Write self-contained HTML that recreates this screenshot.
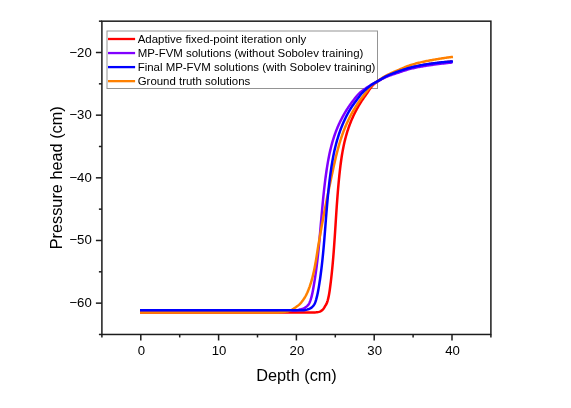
<!DOCTYPE html>
<html><head><meta charset="utf-8"><title>Pressure head vs depth</title>
<style>
html,body{margin:0;padding:0;background:#fff;}
body{width:571px;height:408px;overflow:hidden;position:relative;font-family:"Liberation Sans",sans-serif;}
svg{will-change:transform;}
svg text{font-family:"Liberation Sans",sans-serif;fill:#000;}
</style></head><body>
<svg width="571" height="408" viewBox="0 0 571 408" style="position:absolute;left:0;top:0">
<rect x="0" y="0" width="571" height="408" fill="#fff"/>
<rect x="107" y="31" width="270.5" height="57.5" fill="none" stroke="#949494" stroke-width="1"/>
<path d="M140.00,312.50 L141.13,312.50 L142.02,312.50 L143.00,312.50 L144.00,312.50 L145.00,312.50 L146.00,312.50 L147.00,312.50 L148.00,312.50 L149.00,312.50 L150.00,312.50 L151.00,312.50 L152.00,312.50 L153.00,312.50 L154.00,312.50 L155.00,312.50 L156.00,312.50 L157.00,312.50 L158.00,312.50 L159.00,312.50 L160.00,312.50 L161.00,312.50 L162.00,312.50 L163.00,312.50 L164.00,312.50 L165.00,312.50 L166.00,312.50 L167.00,312.50 L168.00,312.50 L169.00,312.50 L170.00,312.50 L171.00,312.50 L172.00,312.50 L173.00,312.50 L174.00,312.50 L175.00,312.50 L176.00,312.50 L177.00,312.50 L178.00,312.50 L179.00,312.50 L180.00,312.50 L181.00,312.50 L182.00,312.50 L183.00,312.50 L184.00,312.50 L185.00,312.50 L186.00,312.50 L187.00,312.50 L188.00,312.50 L189.00,312.50 L190.00,312.50 L191.00,312.50 L192.00,312.50 L193.00,312.50 L194.00,312.50 L195.00,312.50 L196.00,312.50 L197.00,312.50 L198.00,312.50 L199.00,312.50 L200.00,312.50 L201.00,312.50 L202.00,312.50 L203.00,312.50 L204.00,312.50 L205.00,312.50 L206.00,312.50 L207.00,312.50 L208.00,312.50 L209.00,312.50 L210.00,312.50 L211.00,312.50 L212.00,312.50 L213.00,312.50 L214.00,312.50 L215.00,312.50 L216.00,312.50 L217.00,312.50 L218.00,312.50 L219.00,312.50 L220.00,312.50 L221.00,312.50 L222.00,312.50 L223.00,312.50 L224.00,312.50 L225.00,312.50 L226.00,312.50 L227.00,312.50 L228.00,312.50 L229.00,312.50 L230.00,312.50 L231.00,312.50 L232.00,312.50 L233.00,312.50 L234.00,312.50 L235.00,312.50 L236.00,312.50 L237.00,312.50 L238.00,312.50 L239.00,312.50 L240.00,312.50 L241.00,312.50 L242.00,312.50 L243.00,312.50 L244.00,312.50 L245.00,312.50 L246.00,312.50 L247.00,312.50 L248.00,312.50 L249.00,312.50 L250.00,312.50 L251.00,312.50 L252.00,312.50 L253.00,312.50 L254.00,312.50 L255.00,312.50 L256.00,312.50 L257.00,312.50 L258.00,312.50 L259.00,312.50 L260.00,312.50 L261.00,312.50 L262.00,312.50 L263.00,312.50 L264.00,312.50 L265.00,312.50 L266.00,312.50 L267.00,312.50 L268.00,312.50 L269.00,312.50 L270.00,312.50 L271.00,312.50 L272.00,312.50 L273.00,312.50 L274.00,312.50 L275.00,312.50 L276.00,312.50 L277.00,312.50 L278.00,312.50 L279.00,312.50 L280.00,312.50 L281.00,312.50 L282.00,312.50 L283.00,312.50 L284.00,312.50 L285.00,312.50 L286.00,312.50 L287.00,312.50 L288.00,312.50 L289.00,312.50 L290.00,312.50 L291.00,312.50 L292.00,312.50 L293.00,312.50 L294.00,312.50 L295.00,312.50 L296.00,312.50 L297.00,312.50 L298.00,312.50 L299.00,312.50 L300.00,312.50 L301.00,312.50 L302.00,312.50 L303.00,312.50 L304.00,312.50 L305.00,312.50 L306.00,312.50 L307.00,312.50 L308.00,312.50 L309.00,312.50 L310.00,312.49 L311.01,312.48 L312.01,312.47 L313.01,312.46 L314.01,312.44 L315.00,312.41 L316.00,312.36 L317.00,312.27 L317.98,312.11 L318.95,311.89 L319.90,311.58 L320.80,311.17 L321.64,310.65 L322.39,310.01 L323.08,309.29 L323.69,308.50 L324.22,307.66 L324.72,306.79 L325.22,305.93 L325.75,305.09 L326.27,304.24 L326.71,303.36 L327.08,302.45 L327.39,301.50 L327.67,300.54 L327.93,299.56 L328.17,298.58 L328.40,297.60 L328.61,296.62 L328.81,295.64 L328.99,294.66 L329.17,293.67 L329.33,292.69 L329.49,291.70 L329.64,290.71 L329.78,289.72 L329.92,288.73 L330.05,287.74 L330.18,286.75 L330.31,285.76 L330.44,284.76 L330.56,283.77 L330.68,282.78 L330.81,281.79 L330.92,280.79 L331.04,279.80 L331.16,278.81 L331.27,277.81 L331.38,276.82 L331.49,275.83 L331.60,274.83 L331.71,273.84 L331.81,272.84 L331.92,271.85 L332.02,270.85 L332.12,269.86 L332.22,268.86 L332.31,267.87 L332.41,266.87 L332.50,265.88 L332.59,264.88 L332.69,263.89 L332.78,262.89 L332.86,261.89 L332.95,260.90 L333.04,259.90 L333.12,258.91 L333.21,257.91 L333.29,256.91 L333.37,255.92 L333.45,254.92 L333.53,253.92 L333.61,252.93 L333.69,251.93 L333.76,250.93 L333.84,249.93 L333.91,248.94 L333.99,247.94 L334.06,246.94 L334.13,245.94 L334.20,244.95 L334.27,243.95 L334.34,242.95 L334.41,241.95 L334.48,240.96 L334.55,239.96 L334.62,238.96 L334.69,237.96 L334.75,236.97 L334.82,235.97 L334.88,234.97 L334.95,233.97 L335.02,232.98 L335.08,231.98 L335.14,230.98 L335.21,229.98 L335.27,228.98 L335.34,227.99 L335.40,226.99 L335.47,225.99 L335.53,224.99 L335.59,223.99 L335.66,223.00 L335.72,222.00 L335.78,221.00 L335.85,220.00 L335.91,219.00 L335.98,218.01 L336.04,217.01 L336.11,216.01 L336.17,215.01 L336.24,214.01 L336.30,213.02 L336.37,212.02 L336.43,211.02 L336.50,210.02 L336.57,209.03 L336.64,208.03 L336.70,207.03 L336.77,206.03 L336.84,205.03 L336.91,204.04 L336.98,203.04 L337.06,202.04 L337.13,201.04 L337.20,200.05 L337.27,199.05 L337.35,198.05 L337.43,197.06 L337.50,196.06 L337.58,195.06 L337.66,194.07 L337.74,193.07 L337.82,192.07 L337.90,191.07 L337.98,190.08 L338.07,189.08 L338.15,188.09 L338.24,187.09 L338.33,186.09 L338.42,185.10 L338.51,184.10 L338.60,183.11 L338.69,182.11 L338.79,181.11 L338.88,180.12 L338.98,179.12 L339.08,178.13 L339.18,177.13 L339.28,176.14 L339.38,175.14 L339.49,174.15 L339.60,173.16 L339.71,172.16 L339.82,171.17 L339.93,170.17 L340.04,169.18 L340.16,168.19 L340.28,167.19 L340.40,166.20 L340.52,165.21 L340.65,164.22 L340.77,163.23 L340.90,162.23 L341.04,161.24 L341.18,160.25 L341.32,159.26 L341.46,158.27 L341.61,157.28 L341.76,156.30 L341.92,155.31 L342.08,154.32 L342.24,153.33 L342.41,152.35 L342.59,151.36 L342.76,150.38 L342.95,149.40 L343.14,148.41 L343.33,147.43 L343.53,146.45 L343.73,145.47 L343.94,144.50 L344.16,143.52 L344.38,142.55 L344.60,141.57 L344.84,140.60 L345.08,139.63 L345.32,138.66 L345.57,137.69 L345.83,136.72 L346.10,135.76 L346.37,134.80 L346.65,133.84 L346.93,132.88 L347.22,131.92 L347.52,130.97 L347.83,130.02 L348.14,129.07 L348.46,128.12 L348.79,127.17 L349.12,126.23 L349.47,125.29 L349.82,124.36 L350.17,123.42 L350.54,122.49 L350.91,121.56 L351.29,120.64 L351.67,119.71 L352.07,118.80 L352.47,117.88 L352.88,116.97 L353.30,116.06 L353.72,115.15 L354.15,114.25 L354.59,113.35 L355.04,112.46 L355.49,111.57 L355.96,110.68 L356.42,109.80 L356.90,108.92 L357.38,108.04 L357.88,107.17 L358.37,106.30 L358.88,105.44 L359.39,104.58 L359.91,103.73 L360.44,102.88 L360.97,102.03 L361.51,101.19 L362.06,100.35 L362.61,99.52 L363.17,98.69 L363.74,97.87 L364.31,97.05 L364.89,96.24 L365.48,95.43 L366.07,94.62 L366.65,93.80 L367.22,92.97 L367.78,92.14 L368.34,91.29 L368.89,90.44 L369.45,89.60 L370.01,88.76 L370.59,87.94 L371.18,87.14 L371.80,86.37 L372.44,85.63 L373.12,84.93 L373.85,84.26 L374.61,83.61 L375.40,82.99 L376.21,82.39 L377.03,81.81 L377.85,81.24 L378.68,80.68 L379.52,80.14 L380.37,79.61 L381.23,79.09 L382.10,78.58 L382.97,78.09 L383.85,77.61 L384.74,77.14 L385.63,76.70 L386.52,76.26 L387.43,75.84 L388.34,75.44 L389.25,75.04 L390.18,74.66 L391.10,74.28 L392.04,73.91 L392.97,73.55 L393.91,73.20 L394.85,72.85 L395.80,72.51 L396.74,72.17 L397.68,71.84 L398.62,71.51 L399.57,71.18 L400.52,70.86 L401.46,70.54 L402.41,70.22 L403.37,69.90 L404.32,69.60 L405.28,69.30 L406.23,69.00 L407.19,68.71 L408.16,68.44 L409.12,68.17 L410.08,67.91 L411.05,67.66 L412.02,67.43 L412.99,67.20 L413.96,66.98 L414.93,66.76 L415.91,66.55 L416.89,66.35 L417.87,66.15 L418.85,65.95 L419.84,65.76 L420.82,65.57 L421.81,65.39 L422.79,65.22 L423.78,65.05 L424.77,64.88 L425.75,64.72 L426.74,64.56 L427.73,64.41 L428.72,64.26 L429.71,64.11 L430.70,63.97 L431.68,63.83 L432.67,63.69 L433.66,63.55 L434.65,63.41 L435.64,63.28 L436.63,63.15 L437.62,63.02 L438.62,62.89 L439.61,62.77 L440.60,62.65 L441.59,62.53 L442.59,62.41 L443.58,62.30 L444.58,62.19 L445.57,62.08 L446.57,61.98 L447.56,61.88 L448.56,61.78 L449.56,61.69 L450.55,61.60 L451.49,61.52 L452.27,61.46" fill="none" stroke="#ff0000" stroke-width="2.5" stroke-linejoin="round" stroke-linecap="butt"/>
<path d="M140.00,310.35 L141.13,310.35 L142.02,310.35 L143.00,310.35 L144.00,310.35 L145.00,310.35 L146.00,310.35 L147.00,310.35 L148.00,310.35 L149.00,310.35 L150.00,310.35 L151.00,310.35 L152.00,310.35 L153.00,310.35 L154.00,310.35 L155.00,310.35 L156.00,310.35 L157.00,310.35 L158.00,310.35 L159.00,310.35 L160.00,310.35 L161.00,310.35 L162.00,310.35 L163.00,310.35 L164.00,310.35 L165.00,310.35 L166.00,310.35 L167.00,310.35 L168.00,310.35 L169.00,310.35 L170.00,310.35 L171.00,310.35 L172.00,310.35 L173.00,310.35 L174.00,310.35 L175.00,310.35 L176.00,310.35 L177.00,310.35 L178.00,310.35 L179.00,310.35 L180.00,310.35 L181.00,310.35 L182.00,310.35 L183.00,310.35 L184.00,310.35 L185.00,310.35 L186.00,310.35 L187.00,310.35 L188.00,310.35 L189.00,310.35 L190.00,310.35 L191.00,310.35 L192.00,310.35 L193.00,310.35 L194.00,310.35 L195.00,310.35 L196.00,310.35 L197.00,310.35 L198.00,310.35 L199.00,310.35 L200.00,310.35 L201.00,310.35 L202.00,310.35 L203.00,310.35 L204.00,310.35 L205.00,310.35 L206.00,310.35 L207.00,310.35 L208.00,310.35 L209.00,310.35 L210.00,310.35 L211.00,310.35 L212.00,310.35 L213.00,310.35 L214.00,310.35 L215.00,310.35 L216.00,310.35 L217.00,310.35 L218.00,310.35 L219.00,310.35 L220.00,310.35 L221.00,310.35 L222.00,310.35 L223.00,310.35 L224.00,310.35 L225.00,310.35 L226.00,310.35 L227.00,310.35 L228.00,310.35 L229.00,310.35 L230.00,310.35 L231.00,310.35 L232.00,310.35 L233.00,310.35 L234.00,310.35 L235.00,310.35 L236.00,310.35 L237.00,310.35 L238.00,310.35 L239.00,310.35 L240.00,310.35 L241.00,310.35 L242.00,310.35 L243.00,310.35 L244.00,310.35 L245.00,310.35 L246.00,310.35 L247.00,310.35 L248.00,310.35 L249.00,310.35 L250.00,310.35 L251.00,310.35 L252.00,310.35 L253.00,310.35 L254.00,310.35 L255.00,310.35 L256.00,310.35 L257.00,310.35 L258.00,310.35 L259.00,310.35 L260.00,310.35 L261.00,310.35 L262.00,310.35 L263.00,310.35 L264.00,310.35 L265.00,310.35 L266.00,310.35 L267.00,310.35 L268.00,310.35 L269.00,310.35 L270.00,310.35 L271.00,310.35 L272.00,310.35 L273.00,310.35 L274.00,310.35 L275.00,310.35 L276.00,310.35 L277.00,310.35 L278.00,310.35 L279.00,310.35 L280.00,310.35 L281.00,310.35 L282.00,310.35 L283.00,310.35 L284.00,310.35 L285.00,310.35 L286.00,310.35 L287.00,310.35 L288.00,310.35 L289.00,310.35 L290.00,310.35 L291.00,310.34 L292.00,310.33 L293.01,310.32 L294.01,310.30 L295.00,310.27 L296.00,310.22 L296.99,310.13 L297.98,309.99 L298.96,309.80 L299.94,309.56 L300.91,309.30 L301.87,309.01 L302.81,308.69 L303.74,308.31 L304.63,307.86 L305.49,307.35 L306.30,306.77 L307.07,306.14 L307.79,305.44 L308.43,304.68 L308.98,303.87 L309.44,303.01 L309.84,302.10 L310.19,301.16 L310.52,300.20 L310.82,299.24 L311.10,298.27 L311.37,297.30 L311.63,296.33 L311.87,295.36 L312.10,294.39 L312.31,293.41 L312.52,292.43 L312.72,291.45 L312.91,290.47 L313.10,289.49 L313.28,288.51 L313.45,287.52 L313.63,286.54 L313.80,285.55 L313.96,284.56 L314.13,283.58 L314.29,282.59 L314.45,281.60 L314.61,280.62 L314.76,279.63 L314.92,278.64 L315.07,277.65 L315.22,276.66 L315.36,275.67 L315.51,274.68 L315.65,273.69 L315.79,272.70 L315.92,271.71 L316.06,270.72 L316.19,269.73 L316.32,268.74 L316.45,267.75 L316.58,266.76 L316.71,265.77 L316.83,264.77 L316.95,263.78 L317.07,262.79 L317.19,261.79 L317.31,260.80 L317.43,259.81 L317.54,258.82 L317.65,257.82 L317.76,256.83 L317.87,255.83 L317.98,254.84 L318.09,253.85 L318.19,252.85 L318.30,251.86 L318.40,250.86 L318.50,249.87 L318.60,248.87 L318.70,247.88 L318.80,246.88 L318.90,245.89 L318.99,244.89 L319.09,243.90 L319.18,242.90 L319.27,241.90 L319.37,240.91 L319.46,239.91 L319.55,238.92 L319.64,237.92 L319.73,236.93 L319.82,235.93 L319.91,234.93 L320.00,233.94 L320.09,232.94 L320.17,231.94 L320.26,230.95 L320.35,229.95 L320.43,228.96 L320.52,227.96 L320.61,226.96 L320.69,225.97 L320.78,224.97 L320.86,223.97 L320.95,222.98 L321.04,221.98 L321.12,220.99 L321.21,219.99 L321.29,218.99 L321.38,218.00 L321.47,217.00 L321.55,216.00 L321.64,215.01 L321.73,214.01 L321.82,213.02 L321.90,212.02 L321.99,211.02 L322.08,210.03 L322.17,209.03 L322.26,208.04 L322.35,207.04 L322.45,206.04 L322.54,205.05 L322.63,204.05 L322.73,203.06 L322.82,202.06 L322.92,201.07 L323.02,200.07 L323.11,199.08 L323.21,198.08 L323.31,197.09 L323.41,196.09 L323.52,195.10 L323.62,194.10 L323.73,193.11 L323.83,192.11 L323.94,191.12 L324.05,190.12 L324.16,189.13 L324.27,188.14 L324.39,187.14 L324.50,186.15 L324.62,185.16 L324.74,184.16 L324.86,183.17 L324.98,182.18 L325.10,181.19 L325.23,180.19 L325.35,179.20 L325.48,178.21 L325.61,177.22 L325.75,176.23 L325.88,175.24 L326.02,174.25 L326.16,173.26 L326.30,172.27 L326.44,171.28 L326.59,170.29 L326.74,169.30 L326.89,168.31 L327.04,167.32 L327.20,166.33 L327.36,165.35 L327.52,164.36 L327.68,163.37 L327.85,162.39 L328.02,161.40 L328.20,160.42 L328.38,159.44 L328.56,158.45 L328.75,157.47 L328.94,156.49 L329.14,155.51 L329.34,154.53 L329.55,153.55 L329.76,152.57 L329.98,151.60 L330.20,150.62 L330.42,149.65 L330.66,148.68 L330.90,147.70 L331.14,146.73 L331.39,145.77 L331.65,144.80 L331.91,143.83 L332.18,142.87 L332.45,141.91 L332.73,140.95 L333.02,139.99 L333.32,139.04 L333.62,138.08 L333.93,137.13 L334.24,136.18 L334.57,135.24 L334.89,134.29 L335.23,133.35 L335.58,132.41 L335.93,131.48 L336.29,130.54 L336.65,129.61 L337.02,128.68 L337.41,127.76 L337.79,126.84 L338.19,125.92 L338.59,125.01 L339.00,124.09 L339.42,123.19 L339.85,122.28 L340.28,121.38 L340.72,120.48 L341.17,119.59 L341.63,118.70 L342.09,117.81 L342.56,116.93 L343.04,116.05 L343.53,115.18 L344.02,114.31 L344.52,113.44 L345.03,112.58 L345.54,111.72 L346.06,110.87 L346.59,110.02 L347.13,109.18 L347.67,108.34 L348.22,107.50 L348.78,106.67 L349.34,105.84 L349.91,105.02 L350.48,104.21 L351.07,103.39 L351.66,102.58 L352.25,101.78 L352.85,100.98 L353.46,100.19 L354.08,99.40 L354.70,98.61 L355.32,97.83 L355.95,97.05 L356.58,96.28 L357.22,95.50 L357.88,94.75 L358.56,94.03 L359.26,93.34 L360.00,92.67 L360.75,92.02 L361.53,91.39 L362.32,90.77 L363.12,90.16 L363.94,89.56 L364.76,88.98 L365.59,88.41 L366.42,87.85 L367.25,87.29 L368.09,86.75 L368.93,86.22 L369.79,85.70 L370.64,85.20 L371.51,84.70 L372.39,84.21 L373.26,83.73 L374.15,83.25 L375.03,82.78 L375.91,82.30 L376.80,81.83 L377.68,81.35 L378.56,80.87 L379.43,80.39 L380.31,79.90 L381.19,79.42 L382.07,78.94 L382.96,78.47 L383.85,78.02 L384.74,77.59 L385.65,77.17 L386.56,76.78 L387.48,76.40 L388.41,76.03 L389.34,75.68 L390.28,75.33 L391.23,75.00 L392.17,74.67 L393.12,74.35 L394.07,74.03 L395.03,73.72 L395.98,73.40 L396.93,73.09 L397.88,72.77 L398.83,72.46 L399.78,72.14 L400.73,71.82 L401.68,71.50 L402.63,71.18 L403.58,70.87 L404.53,70.56 L405.49,70.25 L406.44,69.95 L407.40,69.66 L408.36,69.38 L409.32,69.11 L410.28,68.86 L411.25,68.61 L412.22,68.38 L413.19,68.16 L414.16,67.94 L415.14,67.73 L416.12,67.53 L417.10,67.33 L418.08,67.14 L419.06,66.95 L420.05,66.77 L421.03,66.59 L422.02,66.42 L423.01,66.25 L424.00,66.09 L424.99,65.93 L425.98,65.77 L426.96,65.62 L427.95,65.47 L428.94,65.32 L429.93,65.18 L430.92,65.04 L431.91,64.90 L432.90,64.76 L433.89,64.63 L434.88,64.49 L435.87,64.36 L436.86,64.23 L437.85,64.10 L438.84,63.98 L439.84,63.86 L440.83,63.73 L441.82,63.62 L442.82,63.50 L443.81,63.39 L444.80,63.28 L445.80,63.17 L446.80,63.07 L447.79,62.97 L448.79,62.87 L449.78,62.78 L450.77,62.69 L451.68,62.61 L452.40,62.55" fill="none" stroke="#8000ff" stroke-width="2.5" stroke-linejoin="round" stroke-linecap="butt"/>
<path d="M140.00,312.50 L141.13,312.50 L142.02,312.50 L143.00,312.50 L144.00,312.50 L145.00,312.50 L146.00,312.50 L147.00,312.50 L148.00,312.50 L149.00,312.50 L150.00,312.50 L151.00,312.50 L152.00,312.50 L153.00,312.50 L154.00,312.50 L155.00,312.50 L156.00,312.50 L157.00,312.50 L158.00,312.50 L159.00,312.50 L160.00,312.50 L161.00,312.50 L162.00,312.50 L163.00,312.50 L164.00,312.50 L165.00,312.50 L166.00,312.50 L167.00,312.50 L168.00,312.50 L169.00,312.50 L170.00,312.50 L171.00,312.50 L172.00,312.50 L173.00,312.50 L174.00,312.50 L175.00,312.50 L176.00,312.50 L177.00,312.50 L178.00,312.50 L179.00,312.50 L180.00,312.50 L181.00,312.50 L182.00,312.50 L183.00,312.50 L184.00,312.50 L185.00,312.50 L186.00,312.50 L187.00,312.50 L188.00,312.50 L189.00,312.50 L190.00,312.50 L191.00,312.50 L192.00,312.50 L193.00,312.50 L194.00,312.50 L195.00,312.50 L196.00,312.50 L197.00,312.50 L198.00,312.50 L199.00,312.50 L200.00,312.50 L201.00,312.50 L202.00,312.50 L203.00,312.50 L204.00,312.50 L205.00,312.50 L206.00,312.50 L207.00,312.50 L208.00,312.50 L209.00,312.50 L210.00,312.50 L211.00,312.50 L212.00,312.50 L213.00,312.50 L214.00,312.50 L215.00,312.50 L216.00,312.50 L217.00,312.50 L218.00,312.50 L219.00,312.50 L220.00,312.50 L221.00,312.50 L222.00,312.50 L223.00,312.50 L224.00,312.50 L225.00,312.50 L226.00,312.50 L227.00,312.50 L228.00,312.50 L229.00,312.50 L230.00,312.50 L231.00,312.50 L232.00,312.50 L233.00,312.50 L234.00,312.50 L235.00,312.50 L236.00,312.50 L237.00,312.50 L238.00,312.50 L239.00,312.50 L240.00,312.50 L241.00,312.50 L242.00,312.50 L243.00,312.50 L244.00,312.50 L245.00,312.50 L246.00,312.50 L247.00,312.50 L248.00,312.50 L249.00,312.50 L250.00,312.50 L251.00,312.50 L252.00,312.50 L253.00,312.50 L254.00,312.50 L255.00,312.50 L256.00,312.50 L257.00,312.50 L258.00,312.50 L259.00,312.50 L260.00,312.50 L261.00,312.50 L262.00,312.50 L263.00,312.50 L264.00,312.50 L265.00,312.50 L266.00,312.50 L267.00,312.50 L268.00,312.50 L269.00,312.50 L270.00,312.50 L271.00,312.50 L272.00,312.50 L273.00,312.50 L274.00,312.50 L275.00,312.49 L276.00,312.47 L277.00,312.44 L278.00,312.41 L279.00,312.36 L280.00,312.31 L281.00,312.25 L281.99,312.18 L282.99,312.09 L283.98,311.97 L284.97,311.81 L285.96,311.63 L286.94,311.43 L287.91,311.20 L288.87,310.93 L289.83,310.63 L290.76,310.27 L291.66,309.86 L292.54,309.39 L293.39,308.87 L294.23,308.32 L295.06,307.75 L295.88,307.18 L296.69,306.59 L297.49,305.99 L298.28,305.37 L299.05,304.73 L299.78,304.06 L300.47,303.35 L301.13,302.61 L301.77,301.83 L302.38,301.04 L302.98,300.23 L303.55,299.40 L304.11,298.56 L304.64,297.72 L305.15,296.86 L305.64,295.99 L306.11,295.11 L306.56,294.21 L306.99,293.31 L307.41,292.40 L307.81,291.48 L308.19,290.56 L308.56,289.63 L308.91,288.70 L309.26,287.76 L309.60,286.82 L309.92,285.87 L310.24,284.92 L310.55,283.97 L310.85,283.02 L311.14,282.06 L311.43,281.10 L311.70,280.14 L311.97,279.18 L312.23,278.21 L312.49,277.25 L312.73,276.28 L312.97,275.31 L313.21,274.33 L313.43,273.36 L313.65,272.38 L313.87,271.41 L314.08,270.43 L314.28,269.45 L314.48,268.47 L314.67,267.49 L314.86,266.51 L315.05,265.52 L315.23,264.54 L315.40,263.56 L315.58,262.57 L315.75,261.59 L315.92,260.60 L316.08,259.61 L316.25,258.63 L316.41,257.64 L316.57,256.65 L316.73,255.67 L316.88,254.68 L317.04,253.69 L317.20,252.70 L317.36,251.72 L317.51,250.73 L317.67,249.74 L317.83,248.75 L317.99,247.77 L318.15,246.78 L318.31,245.79 L318.47,244.81 L318.64,243.82 L318.80,242.83 L318.96,241.85 L319.13,240.86 L319.30,239.88 L319.46,238.89 L319.63,237.90 L319.80,236.92 L319.97,235.93 L320.14,234.95 L320.31,233.96 L320.48,232.98 L320.66,231.99 L320.83,231.01 L321.00,230.02 L321.18,229.04 L321.36,228.05 L321.53,227.07 L321.71,226.08 L321.89,225.10 L322.07,224.12 L322.25,223.13 L322.43,222.15 L322.61,221.17 L322.79,220.18 L322.97,219.20 L323.15,218.22 L323.34,217.23 L323.52,216.25 L323.71,215.27 L323.89,214.29 L324.08,213.30 L324.27,212.32 L324.46,211.34 L324.64,210.36 L324.83,209.37 L325.02,208.39 L325.21,207.41 L325.41,206.43 L325.60,205.45 L325.79,204.47 L325.98,203.49 L326.18,202.50 L326.37,201.52 L326.57,200.54 L326.76,199.56 L326.96,198.58 L327.16,197.60 L327.35,196.62 L327.55,195.64 L327.75,194.66 L327.95,193.68 L328.15,192.70 L328.35,191.72 L328.55,190.74 L328.75,189.76 L328.96,188.78 L329.16,187.80 L329.36,186.82 L329.57,185.85 L329.77,184.87 L329.98,183.89 L330.18,182.91 L330.39,181.93 L330.60,180.95 L330.80,179.97 L331.01,179.00 L331.22,178.02 L331.43,177.04 L331.64,176.06 L331.85,175.08 L332.06,174.11 L332.27,173.13 L332.48,172.15 L332.69,171.17 L332.90,170.20 L333.12,169.22 L333.33,168.24 L333.54,167.27 L333.76,166.29 L333.97,165.31 L334.19,164.34 L334.41,163.36 L334.63,162.39 L334.85,161.41 L335.08,160.44 L335.30,159.46 L335.53,158.49 L335.76,157.52 L336.00,156.54 L336.23,155.57 L336.47,154.60 L336.71,153.63 L336.96,152.66 L337.21,151.69 L337.46,150.73 L337.72,149.76 L337.98,148.79 L338.24,147.83 L338.51,146.86 L338.78,145.90 L339.05,144.94 L339.34,143.98 L339.62,143.02 L339.91,142.07 L340.20,141.11 L340.50,140.16 L340.81,139.20 L341.12,138.25 L341.43,137.30 L341.75,136.36 L342.08,135.41 L342.41,134.47 L342.75,133.53 L343.09,132.59 L343.44,131.65 L343.79,130.71 L344.16,129.78 L344.52,128.85 L344.89,127.92 L345.27,127.00 L345.66,126.08 L346.05,125.16 L346.45,124.24 L346.85,123.32 L347.26,122.41 L347.68,121.50 L348.11,120.60 L348.54,119.70 L348.97,118.80 L349.42,117.90 L349.87,117.01 L350.32,116.12 L350.79,115.23 L351.26,114.35 L351.74,113.47 L352.22,112.59 L352.71,111.72 L353.21,110.85 L353.71,109.99 L354.22,109.13 L354.73,108.27 L355.26,107.42 L355.79,106.57 L356.32,105.73 L356.86,104.89 L357.41,104.05 L357.96,103.22 L358.53,102.39 L359.09,101.57 L359.66,100.75 L360.24,99.93 L360.83,99.12 L361.42,98.31 L362.02,97.51 L362.62,96.71 L363.23,95.92 L363.84,95.13 L364.46,94.34 L365.08,93.55 L365.69,92.76 L366.31,91.96 L366.92,91.16 L367.54,90.35 L368.16,89.55 L368.78,88.76 L369.42,87.98 L370.07,87.22 L370.73,86.48 L371.41,85.77 L372.12,85.08 L372.85,84.43 L373.62,83.81 L374.42,83.22 L375.24,82.65 L376.08,82.09 L376.92,81.54 L377.76,80.98 L378.59,80.42 L379.42,79.86 L380.25,79.30 L381.09,78.74 L381.92,78.19 L382.76,77.64 L383.61,77.11 L384.46,76.59 L385.32,76.09 L386.19,75.61 L387.07,75.14 L387.96,74.69 L388.85,74.25 L389.75,73.81 L390.66,73.39 L391.57,72.97 L392.49,72.57 L393.41,72.16 L394.33,71.76 L395.25,71.36 L396.17,70.97 L397.09,70.58 L398.01,70.18 L398.92,69.78 L399.84,69.38 L400.76,68.99 L401.68,68.59 L402.61,68.19 L403.53,67.80 L404.46,67.41 L405.38,67.03 L406.31,66.65 L407.25,66.29 L408.18,65.93 L409.12,65.59 L410.06,65.26 L411.00,64.95 L411.95,64.66 L412.90,64.37 L413.86,64.10 L414.82,63.83 L415.78,63.57 L416.75,63.31 L417.72,63.07 L418.69,62.83 L419.67,62.59 L420.64,62.36 L421.62,62.14 L422.60,61.92 L423.58,61.71 L424.56,61.50 L425.54,61.30 L426.53,61.10 L427.51,60.91 L428.49,60.72 L429.47,60.53 L430.45,60.35 L431.43,60.17 L432.41,59.99 L433.40,59.81 L434.38,59.63 L435.36,59.46 L436.35,59.29 L437.33,59.12 L438.32,58.96 L439.31,58.79 L440.29,58.63 L441.28,58.48 L442.27,58.32 L443.26,58.17 L444.25,58.03 L445.24,57.88 L446.23,57.74 L447.22,57.61 L448.22,57.48 L449.21,57.35 L450.20,57.23 L451.16,57.11 L452.01,57.01 L453.00,56.90" fill="none" stroke="#ff8000" stroke-width="2.5" stroke-linejoin="round" stroke-linecap="butt"/>
<path d="M140.00,310.35 L141.13,310.35 L142.02,310.35 L143.00,310.35 L144.00,310.35 L145.00,310.35 L146.00,310.35 L147.00,310.35 L148.00,310.35 L149.00,310.35 L150.00,310.35 L151.00,310.35 L152.00,310.35 L153.00,310.35 L154.00,310.35 L155.00,310.35 L156.00,310.35 L157.00,310.35 L158.00,310.35 L159.00,310.35 L160.00,310.35 L161.00,310.35 L162.00,310.35 L163.00,310.35 L164.00,310.35 L165.00,310.35 L166.00,310.35 L167.00,310.35 L168.00,310.35 L169.00,310.35 L170.00,310.35 L171.00,310.35 L172.00,310.35 L173.00,310.35 L174.00,310.35 L175.00,310.35 L176.00,310.35 L177.00,310.35 L178.00,310.35 L179.00,310.35 L180.00,310.35 L181.00,310.35 L182.00,310.35 L183.00,310.35 L184.00,310.35 L185.00,310.35 L186.00,310.35 L187.00,310.35 L188.00,310.35 L189.00,310.35 L190.00,310.35 L191.00,310.35 L192.00,310.35 L193.00,310.35 L194.00,310.35 L195.00,310.35 L196.00,310.35 L197.00,310.35 L198.00,310.35 L199.00,310.35 L200.00,310.35 L201.00,310.35 L202.00,310.35 L203.00,310.35 L204.00,310.35 L205.00,310.35 L206.00,310.35 L207.00,310.35 L208.00,310.35 L209.00,310.35 L210.00,310.35 L211.00,310.35 L212.00,310.35 L213.00,310.35 L214.00,310.35 L215.00,310.35 L216.00,310.35 L217.00,310.35 L218.00,310.35 L219.00,310.35 L220.00,310.35 L221.00,310.35 L222.00,310.35 L223.00,310.35 L224.00,310.35 L225.00,310.35 L226.00,310.35 L227.00,310.35 L228.00,310.35 L229.00,310.35 L230.00,310.35 L231.00,310.35 L232.00,310.35 L233.00,310.35 L234.00,310.35 L235.00,310.35 L236.00,310.35 L237.00,310.35 L238.00,310.35 L239.00,310.35 L240.00,310.35 L241.00,310.35 L242.00,310.35 L243.00,310.35 L244.00,310.35 L245.00,310.35 L246.00,310.35 L247.00,310.35 L248.00,310.35 L249.00,310.35 L250.00,310.35 L251.00,310.35 L252.00,310.35 L253.00,310.35 L254.00,310.35 L255.00,310.35 L256.00,310.35 L257.00,310.35 L258.00,310.35 L259.00,310.35 L260.00,310.35 L261.00,310.35 L262.00,310.35 L263.00,310.35 L264.00,310.35 L265.00,310.35 L266.00,310.35 L267.00,310.35 L268.00,310.35 L269.00,310.35 L270.00,310.35 L271.00,310.35 L272.00,310.35 L273.00,310.35 L274.00,310.35 L275.00,310.35 L276.00,310.35 L277.00,310.35 L278.00,310.35 L279.00,310.35 L280.00,310.35 L281.00,310.35 L282.00,310.35 L283.00,310.35 L284.00,310.35 L285.00,310.35 L286.00,310.35 L287.00,310.35 L288.00,310.35 L289.00,310.35 L290.00,310.35 L291.00,310.35 L292.00,310.35 L293.00,310.35 L294.00,310.35 L295.00,310.35 L296.00,310.35 L297.00,310.35 L298.00,310.35 L299.00,310.35 L300.00,310.34 L301.01,310.33 L302.00,310.31 L303.00,310.27 L303.99,310.19 L304.98,310.05 L305.97,309.85 L306.95,309.60 L307.91,309.32 L308.86,309.00 L309.78,308.63 L310.66,308.17 L311.48,307.62 L312.23,306.97 L312.93,306.25 L313.56,305.48 L314.13,304.66 L314.62,303.80 L315.03,302.91 L315.39,301.98 L315.70,301.03 L316.00,300.06 L316.27,299.09 L316.54,298.12 L316.79,297.15 L317.04,296.18 L317.27,295.21 L317.48,294.23 L317.69,293.25 L317.89,292.27 L318.07,291.29 L318.25,290.31 L318.43,289.32 L318.60,288.34 L318.77,287.35 L318.93,286.36 L319.09,285.38 L319.25,284.39 L319.40,283.40 L319.55,282.41 L319.70,281.43 L319.85,280.44 L320.00,279.45 L320.14,278.46 L320.28,277.47 L320.42,276.48 L320.55,275.49 L320.69,274.49 L320.82,273.50 L320.95,272.51 L321.08,271.52 L321.20,270.53 L321.32,269.54 L321.45,268.54 L321.56,267.55 L321.68,266.56 L321.80,265.56 L321.91,264.57 L322.02,263.58 L322.13,262.58 L322.24,261.59 L322.35,260.59 L322.46,259.60 L322.56,258.61 L322.66,257.61 L322.76,256.62 L322.86,255.62 L322.96,254.63 L323.06,253.63 L323.15,252.63 L323.25,251.64 L323.34,250.64 L323.43,249.65 L323.52,248.65 L323.61,247.66 L323.70,246.66 L323.79,245.66 L323.88,244.67 L323.96,243.67 L324.05,242.67 L324.13,241.68 L324.22,240.68 L324.30,239.69 L324.38,238.69 L324.46,237.69 L324.54,236.70 L324.62,235.70 L324.70,234.70 L324.78,233.70 L324.86,232.71 L324.94,231.71 L325.02,230.71 L325.10,229.72 L325.18,228.72 L325.25,227.72 L325.33,226.73 L325.41,225.73 L325.49,224.73 L325.56,223.74 L325.64,222.74 L325.72,221.74 L325.80,220.74 L325.88,219.75 L325.95,218.75 L326.03,217.75 L326.11,216.76 L326.19,215.76 L326.27,214.76 L326.35,213.77 L326.43,212.77 L326.51,211.77 L326.59,210.78 L326.67,209.78 L326.76,208.78 L326.84,207.79 L326.93,206.79 L327.01,205.79 L327.10,204.80 L327.18,203.80 L327.27,202.80 L327.36,201.81 L327.45,200.81 L327.54,199.82 L327.63,198.82 L327.73,197.83 L327.82,196.83 L327.91,195.83 L328.01,194.84 L328.11,193.84 L328.21,192.85 L328.31,191.85 L328.41,190.86 L328.52,189.86 L328.62,188.87 L328.73,187.88 L328.84,186.88 L328.95,185.89 L329.06,184.89 L329.17,183.90 L329.29,182.91 L329.41,181.91 L329.53,180.92 L329.65,179.93 L329.77,178.94 L329.89,177.94 L330.02,176.95 L330.15,175.96 L330.28,174.97 L330.42,173.98 L330.55,172.99 L330.69,172.00 L330.83,171.01 L330.97,170.02 L331.12,169.03 L331.27,168.04 L331.42,167.05 L331.57,166.06 L331.73,165.07 L331.88,164.09 L332.05,163.10 L332.21,162.11 L332.38,161.13 L332.55,160.14 L332.73,159.16 L332.91,158.18 L333.10,157.19 L333.28,156.21 L333.48,155.23 L333.67,154.25 L333.88,153.27 L334.08,152.29 L334.29,151.31 L334.51,150.34 L334.73,149.36 L334.96,148.39 L335.19,147.42 L335.43,146.44 L335.67,145.47 L335.92,144.51 L336.17,143.54 L336.43,142.57 L336.69,141.61 L336.96,140.65 L337.24,139.68 L337.52,138.73 L337.81,137.77 L338.11,136.81 L338.41,135.86 L338.72,134.91 L339.03,133.96 L339.35,133.01 L339.68,132.07 L340.01,131.12 L340.36,130.18 L340.70,129.25 L341.06,128.31 L341.42,127.38 L341.79,126.45 L342.16,125.52 L342.54,124.60 L342.93,123.68 L343.33,122.76 L343.73,121.84 L344.14,120.93 L344.55,120.02 L344.98,119.11 L345.41,118.21 L345.84,117.31 L346.29,116.42 L346.74,115.52 L347.20,114.64 L347.67,113.75 L348.15,112.87 L348.63,112.00 L349.13,111.13 L349.64,110.27 L350.15,109.41 L350.68,108.56 L351.21,107.72 L351.76,106.88 L352.32,106.05 L352.88,105.23 L353.46,104.41 L354.04,103.59 L354.63,102.79 L355.22,101.98 L355.82,101.18 L356.42,100.38 L357.02,99.58 L357.63,98.79 L358.23,97.99 L358.83,97.19 L359.43,96.38 L360.02,95.57 L360.62,94.78 L361.25,94.01 L361.90,93.26 L362.58,92.54 L363.27,91.82 L363.98,91.11 L364.71,90.41 L365.45,89.73 L366.20,89.05 L366.96,88.39 L367.74,87.74 L368.52,87.10 L369.31,86.48 L370.11,85.87 L370.92,85.28 L371.73,84.71 L372.56,84.16 L373.40,83.63 L374.25,83.12 L375.13,82.64 L376.01,82.16 L376.89,81.68 L377.77,81.19 L378.63,80.69 L379.49,80.17 L380.35,79.65 L381.21,79.13 L382.06,78.61 L382.92,78.09 L383.79,77.59 L384.66,77.11 L385.54,76.65 L386.43,76.20 L387.33,75.78 L388.24,75.36 L389.15,74.96 L390.07,74.56 L391.00,74.18 L391.92,73.80 L392.86,73.43 L393.79,73.07 L394.73,72.71 L395.67,72.36 L396.61,72.02 L397.55,71.69 L398.49,71.35 L399.44,71.02 L400.38,70.70 L401.33,70.38 L402.28,70.06 L403.23,69.75 L404.19,69.44 L405.14,69.14 L406.10,68.85 L407.06,68.56 L408.02,68.28 L408.99,68.01 L409.95,67.75 L410.92,67.50 L411.88,67.26 L412.85,67.02 L413.82,66.80 L414.80,66.57 L415.77,66.35 L416.75,66.14 L417.73,65.93 L418.71,65.72 L419.69,65.52 L420.67,65.32 L421.66,65.13 L422.64,64.95 L423.63,64.77 L424.61,64.60 L425.60,64.44 L426.59,64.28 L427.58,64.12 L428.56,63.98 L429.55,63.84 L430.54,63.70 L431.53,63.57 L432.52,63.44 L433.51,63.31 L434.50,63.18 L435.49,63.05 L436.48,62.93 L437.47,62.81 L438.47,62.69 L439.46,62.58 L440.45,62.46 L441.45,62.36 L442.44,62.25 L443.44,62.15 L444.43,62.05 L445.43,61.96 L446.43,61.87 L447.43,61.79 L448.42,61.71 L449.42,61.63 L450.42,61.56 L451.37,61.50 L452.18,61.45 L453.00,61.40" fill="none" stroke="#0000ff" stroke-width="2.5" stroke-linejoin="round" stroke-linecap="butt"/>
<rect x="101.90" y="21.17" width="389.00" height="313.30" fill="none" stroke="#1c1c1c" stroke-width="1.5"/>
<line x1="140.80" y1="334.47" x2="140.80" y2="340.47" stroke="#1c1c1c" stroke-width="1.5"/>
<line x1="218.60" y1="334.47" x2="218.60" y2="340.47" stroke="#1c1c1c" stroke-width="1.5"/>
<line x1="296.40" y1="334.47" x2="296.40" y2="340.47" stroke="#1c1c1c" stroke-width="1.5"/>
<line x1="374.20" y1="334.47" x2="374.20" y2="340.47" stroke="#1c1c1c" stroke-width="1.5"/>
<line x1="452.00" y1="334.47" x2="452.00" y2="340.47" stroke="#1c1c1c" stroke-width="1.5"/>
<line x1="101.90" y1="334.47" x2="101.90" y2="337.47" stroke="#1c1c1c" stroke-width="1.5"/>
<line x1="179.70" y1="334.47" x2="179.70" y2="337.47" stroke="#1c1c1c" stroke-width="1.5"/>
<line x1="257.50" y1="334.47" x2="257.50" y2="337.47" stroke="#1c1c1c" stroke-width="1.5"/>
<line x1="335.30" y1="334.47" x2="335.30" y2="337.47" stroke="#1c1c1c" stroke-width="1.5"/>
<line x1="413.10" y1="334.47" x2="413.10" y2="337.47" stroke="#1c1c1c" stroke-width="1.5"/>
<line x1="490.90" y1="334.47" x2="490.90" y2="337.47" stroke="#1c1c1c" stroke-width="1.5"/>
<line x1="101.90" y1="303.14" x2="95.90" y2="303.14" stroke="#1c1c1c" stroke-width="1.5"/>
<line x1="101.90" y1="240.48" x2="95.90" y2="240.48" stroke="#1c1c1c" stroke-width="1.5"/>
<line x1="101.90" y1="177.82" x2="95.90" y2="177.82" stroke="#1c1c1c" stroke-width="1.5"/>
<line x1="101.90" y1="115.16" x2="95.90" y2="115.16" stroke="#1c1c1c" stroke-width="1.5"/>
<line x1="101.90" y1="52.50" x2="95.90" y2="52.50" stroke="#1c1c1c" stroke-width="1.5"/>
<line x1="101.90" y1="334.47" x2="98.90" y2="334.47" stroke="#1c1c1c" stroke-width="1.5"/>
<line x1="101.90" y1="271.81" x2="98.90" y2="271.81" stroke="#1c1c1c" stroke-width="1.5"/>
<line x1="101.90" y1="209.15" x2="98.90" y2="209.15" stroke="#1c1c1c" stroke-width="1.5"/>
<line x1="101.90" y1="146.49" x2="98.90" y2="146.49" stroke="#1c1c1c" stroke-width="1.5"/>
<line x1="101.90" y1="83.83" x2="98.90" y2="83.83" stroke="#1c1c1c" stroke-width="1.5"/>
<line x1="101.90" y1="21.17" x2="98.90" y2="21.17" stroke="#1c1c1c" stroke-width="1.5"/>
<text x="141.30" y="354.8" font-size="13.2" text-anchor="middle">0</text>
<text x="219.10" y="354.8" font-size="13.2" text-anchor="middle">10</text>
<text x="296.90" y="354.8" font-size="13.2" text-anchor="middle">20</text>
<text x="374.70" y="354.8" font-size="13.2" text-anchor="middle">30</text>
<text x="452.50" y="354.8" font-size="13.2" text-anchor="middle">40</text>
<text x="91.8" y="307.14" font-size="13.2" text-anchor="end">−60</text>
<text x="91.8" y="244.48" font-size="13.2" text-anchor="end">−50</text>
<text x="91.8" y="181.82" font-size="13.2" text-anchor="end">−40</text>
<text x="91.8" y="119.16" font-size="13.2" text-anchor="end">−30</text>
<text x="91.8" y="56.50" font-size="13.2" text-anchor="end">−20</text>
<text x="296.5" y="380.7" font-size="16.3" text-anchor="middle">Depth (cm)</text>
<text transform="translate(62,177.8) rotate(-90)" font-size="16.3" text-anchor="middle">Pressure head (cm)</text>
<line x1="108" y1="39.00" x2="135.1" y2="39.00" stroke="#ff0000" stroke-width="2.3"/>
<text x="137.7" y="42.95" font-size="11.45">Adaptive fixed-point iteration only</text>
<line x1="108" y1="53.05" x2="135.1" y2="53.05" stroke="#8000ff" stroke-width="2.3"/>
<text x="137.7" y="57.00" font-size="11.45">MP-FVM solutions (without Sobolev training)</text>
<line x1="108" y1="67.10" x2="135.1" y2="67.10" stroke="#0000ff" stroke-width="2.3"/>
<text x="137.7" y="71.05" font-size="11.45">Final MP-FVM solutions (with Sobolev training)</text>
<line x1="108" y1="81.15" x2="135.1" y2="81.15" stroke="#ff8000" stroke-width="2.3"/>
<text x="137.7" y="85.10" font-size="11.45">Ground truth solutions</text>
</svg>
</body></html>
